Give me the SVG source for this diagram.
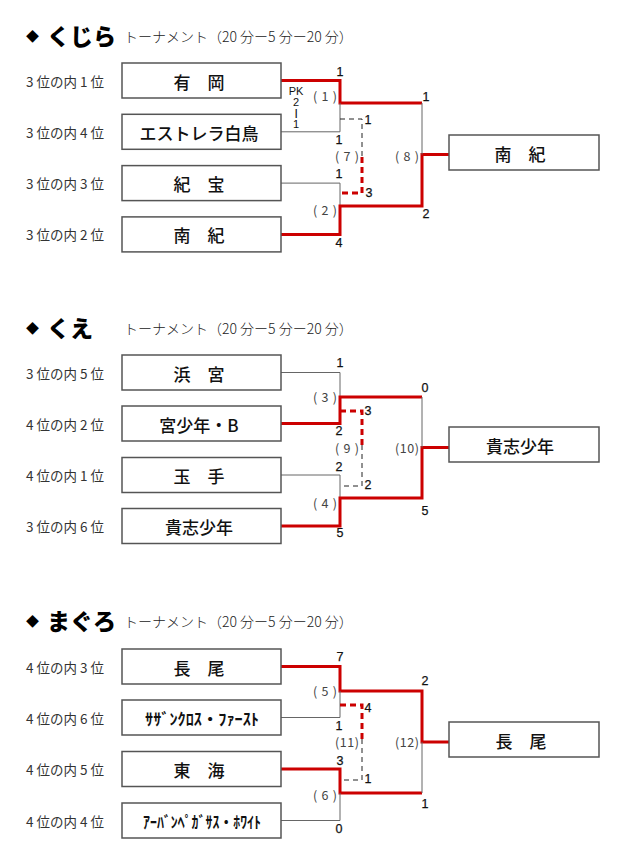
<svg xmlns="http://www.w3.org/2000/svg" width="625" height="860" viewBox="0 0 625 860">
<style>
.bg{fill:#ffffff}
.box{fill:#ffffff;stroke:#555555;stroke-width:1.5}
.name{font-family:"Noto Sans CJK JP","Noto Sans",sans-serif;font-size:17px;font-weight:500;fill:#111111;text-anchor:middle;dominant-baseline:central}
.han{font-family:"Noto Sans CJK JP","Noto Sans",sans-serif;font-size:16px;font-weight:700;fill:#111111;text-anchor:middle;dominant-baseline:central}
.seed{font-family:"Noto Sans CJK JP","Noto Sans",sans-serif;font-size:13.5px;fill:#333333;dominant-baseline:central}
.ttl{font-family:"Noto Sans CJK JP","Noto Sans",sans-serif;font-size:23px;font-weight:900;fill:#000000;dominant-baseline:central}
.dia{font-family:"Noto Sans CJK JP","DejaVu Sans",sans-serif;font-size:13px;fill:#000000;dominant-baseline:central}
.sub{font-family:"Noto Sans CJK JP","Noto Sans",sans-serif;font-size:14px;font-weight:300;fill:#222222;dominant-baseline:central}
.sc{font-family:"Liberation Sans",Arial,sans-serif;font-size:12.5px;fill:#111111;stroke:#111111;stroke-width:0.25;text-anchor:middle;dominant-baseline:central}
.pk{font-family:"Liberation Sans",Arial,sans-serif;font-size:11px;fill:#111111;text-anchor:middle;dominant-baseline:central}
.mn{font-family:"Noto Sans CJK JP","Noto Sans",sans-serif;font-size:12.5px;fill:#444444;text-anchor:middle;dominant-baseline:central}
.g{fill:none;stroke:#666666;stroke-width:1}
.r{fill:none;stroke:#cc0000;stroke-width:3}
.gd{fill:none;stroke:#222222;stroke-width:1;stroke-dasharray:5 4}
.rd{fill:none;stroke:#cc0000;stroke-width:3;stroke-dasharray:6 4}
</style>
<rect class="bg" x="0" y="0" width="625" height="860"/>

<!-- Titles -->
<g id="title-kujira">
<text class="dia" x="26" y="35">◆</text>
<text class="ttl" x="47" y="35">くじら</text>
<text class="sub" x="124" y="36">トーナメント（20 分ー5 分ー20 分）</text>
</g>
<g id="title-kue">
<text class="dia" x="26" y="327">◆</text>
<text class="ttl" x="47" y="327">くえ</text>
<text class="sub" x="124" y="328">トーナメント（20 分ー5 分ー20 分）</text>
</g>
<g id="title-maguro">
<text class="dia" x="26" y="620">◆</text>
<text class="ttl" x="47" y="620">まぐろ</text>
<text class="sub" x="124" y="621">トーナメント（20 分ー5 分ー20 分）</text>
</g>

<!-- Connectors -->
<g id="connectors">
<!-- kujira -->
<path class="r" d="M281 80.5H340V103H422"/>
<path class="g" d="M281 131.8H340V103"/>
<path class="g" d="M281 183.1H340V206"/>
<path class="r" d="M281 234.4H340V206H422V154.5H449"/>
<path class="g" d="M422 103V154.5"/>
<path class="gd" d="M340 119H362V157"/>
<path class="rd" d="M362 157V193H340"/>
<!-- kue -->
<path class="g" d="M281 372.5H340V397"/>
<path class="r" d="M281 423.5H340V397H422"/>
<path class="g" d="M281 475H340V498"/>
<path class="r" d="M281 526H340V498H422V447.5H449"/>
<path class="g" d="M422 397V447.5"/>
<path class="rd" d="M340 411H362V445"/>
<path class="gd" d="M362 445V486H340"/>
<!-- maguro -->
<path class="r" d="M281 666.5H340V691H422V742H449"/>
<path class="g" d="M281 717.5H340V691"/>
<path class="r" d="M281 769H340V793H422"/>
<path class="g" d="M281 820.5H340V793"/>
<path class="g" d="M422 742V793"/>
<path class="rd" d="M340 705H362V739"/>
<path class="gd" d="M362 739V780H340"/>
</g>

<!-- Scores and match numbers -->
<g id="labels-kujira">
<text class="sc" x="340" y="72">1</text>
<text class="pk" x="296" y="91">PK</text>
<text class="pk" x="296" y="102">2</text>
<text class="pk" x="296" y="113" transform="rotate(90 296 113)">ー</text>
<text class="pk" x="296" y="124">1</text>
<text class="mn" x="325" y="95" textLength="24" lengthAdjust="spacing">(1)</text>
<text class="sc" x="368" y="120">1</text>
<text class="sc" x="339" y="140">1</text>
<text class="mn" x="347" y="155" textLength="24" lengthAdjust="spacing">(7)</text>
<text class="sc" x="339" y="174">1</text>
<text class="sc" x="369" y="193">3</text>
<text class="mn" x="325" y="209" textLength="24" lengthAdjust="spacing">(2)</text>
<text class="sc" x="339" y="243">4</text>
<text class="sc" x="426" y="97">1</text>
<text class="sc" x="426" y="214">2</text>
<text class="mn" x="407" y="155" textLength="24" lengthAdjust="spacing">(8)</text>
</g>
<g id="labels-kue">
<text class="sc" x="340" y="363">1</text>
<text class="mn" x="325" y="396" textLength="24" lengthAdjust="spacing">(3)</text>
<text class="sc" x="368" y="411">3</text>
<text class="sc" x="339" y="431">2</text>
<text class="mn" x="347" y="447" textLength="24" lengthAdjust="spacing">(9)</text>
<text class="sc" x="339" y="467">2</text>
<text class="sc" x="368" y="485">2</text>
<text class="mn" x="325" y="502" textLength="24" lengthAdjust="spacing">(4)</text>
<text class="sc" x="340" y="533">5</text>
<text class="sc" x="425" y="388">0</text>
<text class="sc" x="425" y="511">5</text>
<text class="mn" x="407" y="447" textLength="24" lengthAdjust="spacing">(10)</text>
</g>
<g id="labels-maguro">
<text class="sc" x="340" y="657">7</text>
<text class="mn" x="325" y="690" textLength="24" lengthAdjust="spacing">(5)</text>
<text class="sc" x="368" y="708">4</text>
<text class="sc" x="339" y="726">1</text>
<text class="mn" x="347" y="741" textLength="24" lengthAdjust="spacing">(11)</text>
<text class="sc" x="340" y="761">3</text>
<text class="sc" x="368" y="779">1</text>
<text class="mn" x="325" y="794" textLength="24" lengthAdjust="spacing">(6)</text>
<text class="sc" x="339" y="829">0</text>
<text class="sc" x="425" y="681">2</text>
<text class="sc" x="425" y="804">1</text>
<text class="mn" x="407" y="741" textLength="24" lengthAdjust="spacing">(12)</text>
</g>

<!-- kujira nodes -->
<g id="n-arioka"><text class="seed" x="26" y="80.5">3 位の内 1 位</text><rect class="box" x="122" y="63" width="159" height="35"/><text class="name" x="199" y="81">有　岡</text></g>
<g id="n-estrela"><text class="seed" x="26" y="131.8">3 位の内 4 位</text><rect class="box" x="122" y="114.3" width="159" height="35"/><text class="name" x="199" y="132.3">エストレラ白鳥</text></g>
<g id="n-kiho"><text class="seed" x="26" y="183.1">3 位の内 3 位</text><rect class="box" x="122" y="165.6" width="159" height="35"/><text class="name" x="199" y="183.6">紀　宝</text></g>
<g id="n-nanki"><text class="seed" x="26" y="234.4">3 位の内 2 位</text><rect class="box" x="122" y="216.9" width="159" height="35"/><text class="name" x="199" y="234.9">南　紀</text></g>
<g id="w-kujira"><rect class="box" x="449" y="135" width="150" height="35"/><text class="name" x="520" y="153">南　紀</text></g>

<!-- kue nodes -->
<g id="n-hamamiya"><text class="seed" x="26" y="372.5">3 位の内 5 位</text><rect class="box" x="122" y="355" width="159" height="35"/><text class="name" x="199" y="373">浜　宮</text></g>
<g id="n-miyashonen"><text class="seed" x="26" y="423.5">4 位の内 2 位</text><rect class="box" x="122" y="406" width="159" height="35"/><text class="name" x="199" y="424">宮少年・B</text></g>
<g id="n-tamate"><text class="seed" x="26" y="475">4 位の内 1 位</text><rect class="box" x="122" y="457.5" width="159" height="35"/><text class="name" x="199" y="475.5">玉　手</text></g>
<g id="n-kishi"><text class="seed" x="26" y="526">3 位の内 6 位</text><rect class="box" x="122" y="508.5" width="159" height="35"/><text class="name" x="199" y="526.5">貴志少年</text></g>
<g id="w-kue"><rect class="box" x="449" y="427" width="150" height="35"/><text class="name" x="520" y="445">貴志少年</text></g>

<!-- maguro nodes -->
<g id="n-nagao"><text class="seed" x="26" y="666.5">4 位の内 3 位</text><rect class="box" x="122" y="649" width="159" height="35"/><text class="name" x="199" y="667">長　尾</text></g>
<g id="n-southern"><text class="seed" x="26" y="717.5">4 位の内 6 位</text><rect class="box" x="122" y="700" width="159" height="35"/><text class="han" x="202" y="718" textLength="114" lengthAdjust="spacingAndGlyphs">ｻｻﾞﾝｸﾛｽ・ﾌｧｰｽﾄ</text></g>
<g id="n-tokai"><text class="seed" x="26" y="769">4 位の内 5 位</text><rect class="box" x="122" y="751.5" width="159" height="35"/><text class="name" x="199" y="769.5">東　海</text></g>
<g id="n-urban"><text class="seed" x="26" y="820.5">4 位の内 4 位</text><rect class="box" x="122" y="803" width="159" height="35"/><text class="han" x="202" y="821" textLength="118" lengthAdjust="spacingAndGlyphs">ｱｰﾊﾞﾝﾍﾟｶﾞｻｽ・ﾎﾜｲﾄ</text></g>
<g id="w-maguro"><rect class="box" x="449" y="722" width="150" height="35"/><text class="name" x="521" y="740">長　尾</text></g>
</svg>
